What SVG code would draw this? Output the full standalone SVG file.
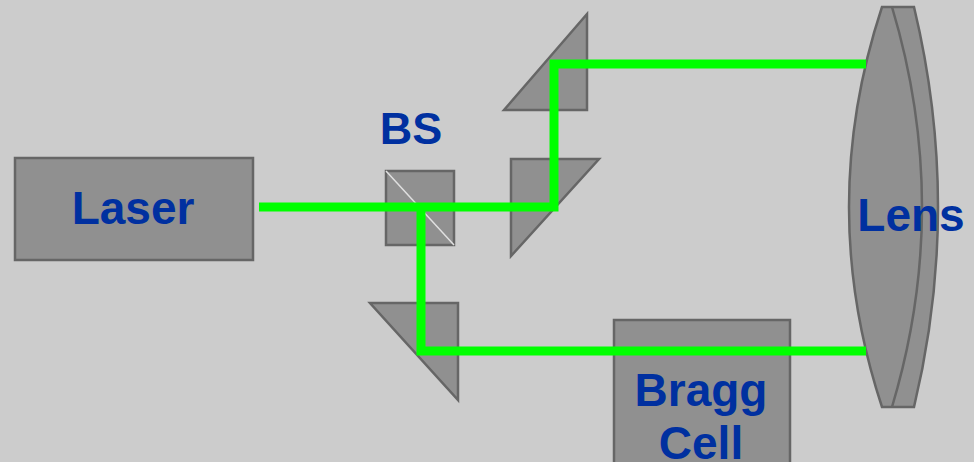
<svg xmlns="http://www.w3.org/2000/svg" width="974" height="462" viewBox="0 0 974 462">
<style>
.bg{fill:#cccccc}
.part{fill:#909090;stroke:#666666;stroke-width:2.5;stroke-linejoin:miter}
.lbl{font-family:"Liberation Sans",Arial,sans-serif;font-weight:bold;font-size:46px;fill:#0030a0;text-anchor:middle}
.beam{fill:none;stroke:#00ff00;stroke-width:9;stroke-linejoin:miter;stroke-linecap:butt}
</style>
<rect class="bg" x="0" y="0" width="974" height="462"/>
<g id="laser">
<rect class="part" x="15" y="158" width="238" height="102"/>
<text class="lbl" x="133" y="224">Laser</text>
</g>
<g id="bs">
<rect class="part" x="386" y="171" width="68" height="74"/>
<line x1="386" y1="171" x2="454" y2="245" stroke="#e0e0e0" stroke-width="1.5"/>
<text class="lbl" x="411" y="144" style="font-size:45px">BS</text>
</g>
<g id="prism-top">
<polygon class="part" points="587,14 504,110 587,110"/>
</g>
<g id="prism-mid">
<polygon class="part" points="511,159 599,159 511,256"/>
</g>
<g id="prism-low">
<polygon class="part" points="370,303 458,303 458,400"/>
</g>
<g id="bragg">
<rect class="part" x="614" y="320" width="176" height="150"/>
<text class="lbl" x="701" y="406">Bragg</text>
<text class="lbl" x="701" y="459">Cell</text>
</g>
<g id="lens">
<path class="part" d="M882,7 L914,7 Q962,207 914,407 L882,407 Q816,207 882,7 Z"/>
<path d="M892,7 Q952,207 892,407" fill="none" stroke="#666666" stroke-width="2.5"/>
<text class="lbl" x="911" y="231">Lens</text>
</g>
<g id="connectors">
<polyline class="beam" points="259,207 554,207 554,64 866,64"/>
<polyline class="beam" points="421,207 421,351 866,351"/>
</g>
</svg>
